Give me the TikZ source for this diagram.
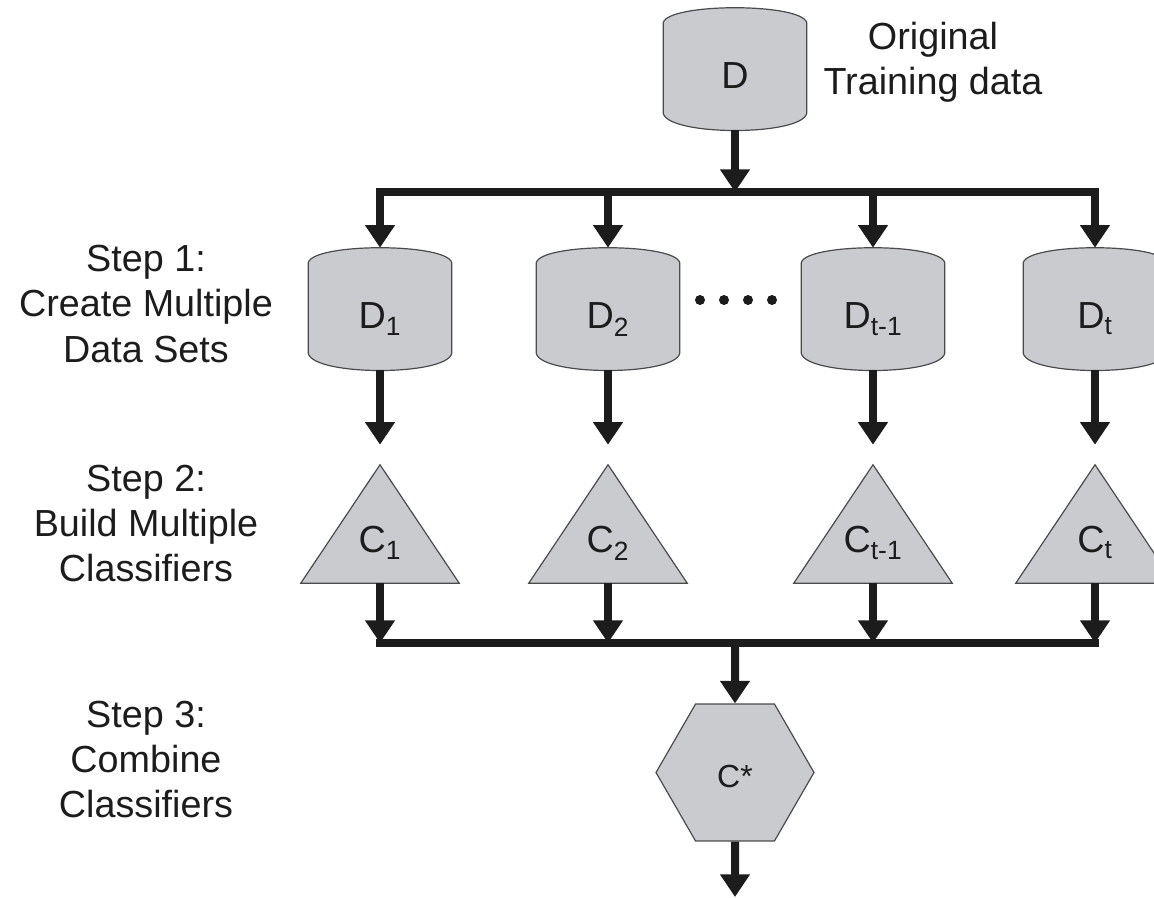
\documentclass[tikz,border=0pt]{standalone}
\usepackage{fontspec}
\setmainfont{Liberation Sans}
\usetikzlibrary{arrows.meta,calc,shapes.geometric}
\pgfdeclarelayer{background}
\pgfsetlayers{background,main}
\definecolor{shapegray}{RGB}{201,203,206}
\definecolor{edgegray}{RGB}{75,75,75}
\definecolor{inkblack}{RGB}{28,28,28}

\begin{document}
\begin{tikzpicture}[x=0.75pt,y=0.75pt,yscale=-1,xscale=1,
  font=\fontsize{28.3}{34}\selectfont, text=inkblack,
  barrel/.style={minimum width=107.25pt,minimum height=91.5pt,inner sep=0pt,text height=30pt,text depth=0pt},
  classifier/.style={minimum width=118.5pt,minimum height=88.5pt,inner sep=0pt,text height=43.5pt,text depth=0pt},
  combiner/.style={regular polygon,regular polygon sides=6,minimum size=118.5pt,inner sep=0pt,fill=shapegray,draw=edgegray,line width=0.9pt,font=\fontsize{24}{28}\selectfont,text height=21.75pt,text depth=0pt},
  shapebody/.style={fill=shapegray,draw=edgegray,line width=0.9pt},
  flow/.style={draw=inkblack,line width=6pt,-{Triangle[width=21.5pt,length=17pt]}},
  bar/.style={draw=inkblack,line width=6pt,line cap=rect}]
\useasboundingbox (0,0) rectangle (1154,898);

% Text Node
\draw (933,62) node (orig) [align=center] {Original\\Training data};
% Text Node
\draw (146,304) node (step1) [align=center] {Step 1:\\Create Multiple\\Data Sets};
% Text Node
\draw (146,523.5) node (step2) [align=center] {Step 2:\\Build Multiple\\Classifiers};
% Text Node
\draw (146,759.5) node (step3) [align=center] {Step 3:\\Combine\\Classifiers};

%Data sets
\draw (735,69) node (d) [barrel] {D};
\draw (380,309) node (d1) [barrel] {D\textsubscript{1}};
\draw (608,309) node (d2) [barrel] {D\textsubscript{2}};
\draw (873,309) node (dtm) [barrel] {D\textsubscript{t-1}};
\draw (1095,309) node (dt) [barrel] {D\textsubscript{t}};

%Classifiers
\draw (380,524) node (c1) [classifier] {C\textsubscript{1}};
\draw (608,524) node (c2) [classifier] {C\textsubscript{2}};
\draw (873,524) node (ctm) [classifier] {C\textsubscript{t-1}};
\draw (1095,524) node (ct) [classifier] {C\textsubscript{t}};

%Combined classifier
\draw (735,772.5) node (cstar) [combiner] {C*};

\coordinate (split) at (735,192);
\coordinate (merge) at (735,643);
\coordinate (out) at (735,897);

%Shapes behind the labels
\begin{pgfonlayer}{background}
\foreach \n in {d,d1,d2,dtm,dt}
  \draw [shapebody] ($(\n.north west)+(0,15)$) .. controls +(5,-20) and +(-5,-20) .. ($(\n.north east)+(0,15)$) -- ($(\n.south east)+(0,-17)$) .. controls +(-5,23) and +(5,23) .. ($(\n.south west)+(0,-17)$) -- cycle;
\foreach \n in {c1,c2,ctm,ct}
  \draw [shapebody] (\n.south west) -- (\n.north) -- (\n.south east) -- cycle;
\end{pgfonlayer}

%Dots
\foreach \x in {700,724,748,772}
  \fill [inkblack] (\x,300) circle (5);

%Arrows
\draw [flow] (d.south) -- (split);
\foreach \n in {d1,d2,dtm,dt}
  \draw [flow] (split) -| (\n.north);
\foreach \a/\b in {d1/c1,d2/c2,dtm/ctm,dt/ct}
  \draw [flow,shorten >=15pt] (\a.south) -- (\b.north);
\draw [bar] (c1.south |- merge) -- (ct.south |- merge);
\foreach \n in {c1,c2,ctm,ct}
  \draw [flow] (\n.south) -- (\n.south |- merge);
\draw [flow] (merge) -- (cstar.north);
\draw [flow] (cstar.south) -- (out);
\end{tikzpicture}
\end{document}
